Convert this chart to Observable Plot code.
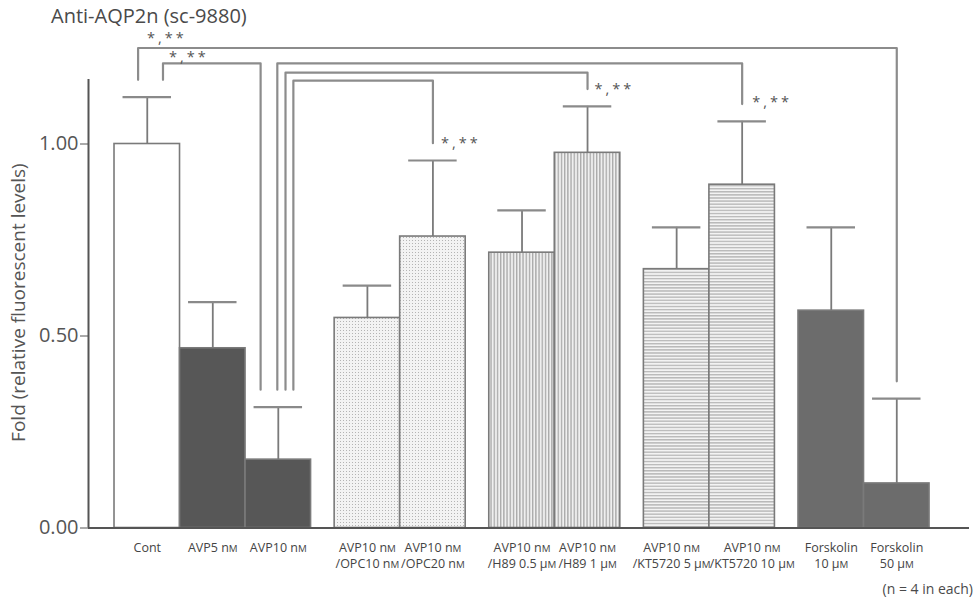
<!DOCTYPE html>
<html><head><meta charset="utf-8">
<script src="https://cdn.jsdelivr.net/npm/d3@7"></script>
<script src="https://cdn.jsdelivr.net/npm/@observablehq/plot@0.6"></script>
<style>
body{margin:0;background:#fff;font-family:"Open Sans",sans-serif;}
#wrap{position:relative;width:976px;height:601px;overflow:hidden;}
#title{position:absolute;left:51px;top:2px;font-size:20px;color:#4a4a4a;white-space:nowrap;}
#chart{position:absolute;left:0;top:26px;}
#caption{position:absolute;right:3px;top:579px;font-size:14px;color:#4a4a4a;white-space:nowrap;}
.stars{letter-spacing:3px;}
</style></head><body>
<div id="wrap">
  <div id="title">Anti-AQP2n (sc-9880)</div>
  <div id="chart"></div>
  <div id="caption">(n = 4 in each)</div>
</div>
<script>
// ---- data ----
const labels = [
  "Cont", "AVP5 nM", "AVP10 nM",
  "AVP10 nM\n/OPC10 nM", "AVP10 nM\n/OPC20 nM",
  "AVP10 nM\n/H89 0.5 μM", "AVP10 nM\n/H89 1 μM",
  "AVP10 nM\n/KT5720 5 μM", "AVP10 nM\n/KT5720 10 μM",
  "Forskolin\n10 μM", "Forskolin\n50 μM"
];
const groups = [0, 0, 0, 1, 1, 2, 2, 3, 3, 4, 4];
const means = [1.00, 0.468, 0.178, 0.547, 0.759, 0.717, 0.977, 0.674, 0.894, 0.566, 0.116];
const sems  = [0.122, 0.120, 0.137, 0.084, 0.198, 0.110, 0.121, 0.109, 0.165, 0.217, 0.221];
const fills = ["white", "dark", "dark", "stipple", "stipple", "vlines", "vlines", "hlines", "hlines", "mid", "mid"];
const yTicks = [0, 0.5, 1.0];
const yLabel = "Fold (relative fluorescent levels)";
// significance brackets: from bar index -> to bar index at a level
const brackets = [
  {from: 0, to: 10, level: 1.250, label: "*,**"},
  {from: 0, to: 2,  level: 1.210, label: "*,**"},
  {from: 2, to: 8,  level: 1.210, label: "*,**"},
  {from: 2, to: 6,  level: 1.186, label: "*,**"},
  {from: 2, to: 4,  level: 1.165, label: "*,**"}
];

// ---- layout helpers (positions / styles, not data) ----
const GAP = 0.36;       // gap between groups (in bar widths)
const LEG = 0.045;      // bracket leg clearance above cap
const legOffsets = [   // horizontal offsets of bracket legs from bar centres
  {fromDx: -0.14, toDx: 0, side: "left", dx: 9, dy: -10},
  {fromDx: 0.24, toDx: -0.27, side: "left", dx: 6, dy: -6},
  {fromDx: -0.015, toDx: 0, side: "right", dx: 10, dy: -2},
  {fromDx: 0.11, toDx: 0, side: "right", dx: 7, dy: 0},
  {fromDx: 0.23, toDx: 0, side: "right", dx: 8, dy: 0}
];
const labelShift = {7: -5, 8: 10};
const fillMap = {
  white: "#ffffff", dark: "#575757", mid: "#6c6c6c",
  stipple: "url(#stipple)", vlines: "url(#vlines)", hlines: "url(#hlines)"
};
const bars = labels.map((label, i) => {
  const x1 = i + GAP * groups[i];
  return {label, i, x1, x2: x1 + 1, xc: x1 + 0.5, mean: means[i], sem: sems[i], top: means[i] + sems[i], fill: fillMap[fills[i]], shift: labelShift[i] || 0};
});
const xDomain = [-0.397, 13.05];
const yDomain = [0, 1.25];

const bracketPts = [];
const bracketLabels = [];
brackets.forEach((b, k) => {
  const o = legOffsets[k];
  const A = bars[b.from], B = bars[b.to];
  const xa = A.xc + o.fromDx, xb = B.xc + o.toDx;
  const ya = A.top + LEG, yb = B.top + LEG;
  bracketPts.push({k, x: xa, y: ya}, {k, x: xa, y: b.level}, {k, x: xb, y: b.level}, {k, x: xb, y: yb});
  if (o.side === "left") bracketLabels.push({x: xa, y: b.level, text: b.label, dx: o.dx, dy: o.dy});
  else bracketLabels.push({x: xb, y: yb, text: b.label, dx: o.dx, dy: o.dy});
});

const svg = Plot.plot({
  width: 976,
  height: 552,
  marginLeft: 88,
  marginRight: 7,
  marginTop: 21.5,
  marginBottom: 50.5,
  style: {fontFamily: "'Open Sans', sans-serif", background: "transparent", overflow: "visible"},
  x: {type: "linear", domain: xDomain, axis: null},
  y: {domain: yDomain, axis: null},
  color: {type: "identity"},
  marks: [
    // bars
    Plot.rect(bars, {x1: "x1", x2: "x2", y1: 0, y2: "mean", fill: "fill", stroke: "#7a7a7a", strokeWidth: 1.6}),
    // error bars
    Plot.ruleX(bars, {x: "xc", y1: "mean", y2: "top", stroke: "#7a7a7a", strokeWidth: 1.8}),
    Plot.ruleY(bars, {y: "top", x1: d => d.xc - 0.37, x2: d => d.xc + 0.37, stroke: "#8a8a8a", strokeWidth: 2.2}),
    // brackets
    Plot.line(bracketPts, {x: "x", y: "y", z: "k", stroke: "#8c8c8c", strokeWidth: 2.2, curve: "linear"}),
    Plot.text(bracketLabels, {x: "x", y: "y", text: "text", textAnchor: "start", fontSize: 14.5, fill: "#555", className: "stars"}),
    // y axis
    Plot.axisY({ticks: yTicks, tickFormat: d3.format(".2f"), tickSize: 8, tickPadding: 2, fontSize: 20, color: "#555", label: null}),
    Plot.ruleX([xDomain[0]], {y1: 0, y2: 1.168, stroke: "#555", strokeWidth: 2}),
    Plot.text([yLabel], {x: xDomain[0], y: 0.587, text: d => d, rotate: -90, dx: -70, fontSize: 19, fill: "#555"}),
    // x axis baseline and labels
    Plot.ruleY([0], {x1: xDomain[0], x2: xDomain[1], stroke: "#555", strokeWidth: 2}),
    Plot.text(bars, {x: "xc", y: 0, text: "label", dy: 12, lineAnchor: "top", lineHeight: 1.3, fontSize: 12.5, fill: "#444", className: "xlab"})
  ]
});

d3.select(svg).insert("defs", ":first-child").html(`
  <pattern id="stipple" width="3" height="3" patternUnits="userSpaceOnUse">
    <rect width="3" height="3" fill="#f3f3f3"/>
    <rect x="1" y="1" width="1" height="1" fill="#b4b4b4"/>
  </pattern>
  <pattern id="vlines" width="3.2" height="4" patternUnits="userSpaceOnUse">
    <rect width="3.2" height="4" fill="#efefef"/>
    <rect x="1" y="0" width="1" height="4" fill="#929292"/>
  </pattern>
  <pattern id="hlines" width="4" height="3.1" patternUnits="userSpaceOnUse">
    <rect width="4" height="3.1" fill="#f3f3f3"/>
    <rect x="0" y="1" width="4" height="1" fill="#a2a2a2"/>
  </pattern>
`);
// bracket label offsets
d3.select(svg).selectAll(".stars text").each(function(_, j) {
  const d = bracketLabels[j];
  if (!d) return;
  const t = this.getAttribute("transform") || "";
  this.setAttribute("transform", `translate(${d.dx},${d.dy}) ` + t);
});
// x labels: horizontal shift and small-cap unit "M"
const SVGNS = "http://www.w3.org/2000/svg";
d3.select(svg).selectAll(".xlab text").each(function(_, j) {
  const b = bars[j];
  if (b && b.shift) {
    const t = this.getAttribute("transform") || "";
    this.setAttribute("transform", `translate(${b.shift},0) ` + t);
  }
});
d3.select(svg).selectAll(".xlab text, .xlab tspan").each(function() {
  Array.from(this.childNodes).filter(n => n.nodeType === 3).forEach(n => {
    const parts = n.nodeValue.split(/(?<=[nμ])M/);
    if (parts.length < 2) return;
    const frag = document.createDocumentFragment();
    parts.forEach((p, idx) => {
      frag.appendChild(document.createTextNode(p));
      if (idx < parts.length - 1) {
        const s = document.createElementNS(SVGNS, "tspan");
        s.setAttribute("font-size", "78%");
        s.textContent = "M";
        frag.appendChild(s);
      }
    });
    n.replaceWith(frag);
  });
});
document.getElementById("chart").appendChild(svg);
</script>
</body></html>
